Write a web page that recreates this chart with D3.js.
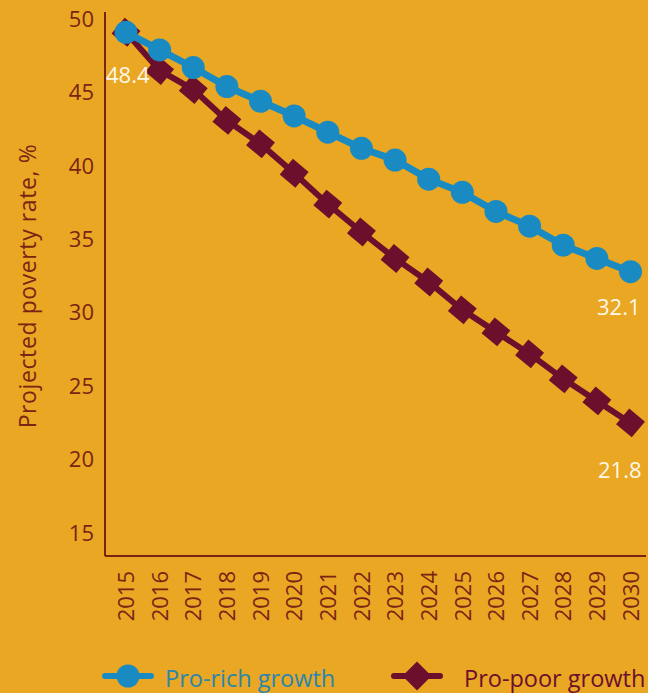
<!DOCTYPE html>
<html>
<head>
<meta charset="utf-8">
<script src="https://cdn.jsdelivr.net/npm/d3@7"></script>
<style>
  html, body { margin: 0; padding: 0; background: #E9A723; }
  svg { display: block; font-family: "Open Sans", sans-serif; }
</style>
</head>
<body>
<svg id="chart" width="648" height="693"></svg>
<script>
// Projected poverty rate (%) under two growth scenarios, 2015–2030
const years = [2015, 2016, 2017, 2018, 2019, 2020, 2021, 2022, 2023, 2024, 2025, 2026, 2027, 2028, 2029, 2030];
const proRich = [48.4, 47.2, 46.0, 44.7, 43.7, 42.7, 41.6, 40.5, 39.7, 38.4, 37.5, 36.2, 35.2, 33.9, 33.0, 32.1];
const proPoor = [48.4, 45.8, 44.5, 42.4, 40.8, 38.8, 36.7, 34.8, 33.0, 31.4, 29.5, 28.0, 26.5, 24.8, 23.3, 21.8];
const yTicks = [15, 20, 25, 30, 35, 40, 45, 50];
const seriesNames = ["Pro-rich growth", "Pro-poor growth"];

const colors = {
  bg: "#E9A723",
  rich: "#1A8BC2",
  poor: "#6C0F2C",
  axis: "#7A2414",
  richText: "#2986AE",
  poorText: "#6C0F2C",
  label: "#FFF8E8"
};

const svg = d3.select("#chart");

const x = d3.scalePoint().domain(years).range([126, 630.5]);
const y = d3.scaleLinear().domain([12.74, 49.78]).range([556, 12]);

// axis lines (left and bottom)
svg.append("line")
  .attr("x1", 105).attr("x2", 105)
  .attr("y1", y(49.78)).attr("y2", y(12.74))
  .attr("stroke", colors.axis).attr("stroke-width", 2);
svg.append("line")
  .attr("x1", 105).attr("x2", 646)
  .attr("y1", y(12.74)).attr("y2", y(12.74))
  .attr("stroke", colors.axis).attr("stroke-width", 2);

// y tick labels
const yAxis = d3.axisLeft(y).tickValues(yTicks).tickSize(0).tickPadding(0);
const gy = svg.append("g").attr("transform", "translate(94,0)").call(yAxis);
gy.select(".domain").remove();
gy.selectAll("text")
  .attr("fill", colors.axis)
  .attr("font-size", 22)
  .attr("font-family", "Open Sans, sans-serif")
  .attr("dy", "0.34em")
  .attr("y", 10);

// x tick labels, rotated
const xAxis = d3.axisBottom(x).tickSize(0).tickPadding(0);
const gx = svg.append("g").attr("transform", "translate(0,571)").call(xAxis);
gx.select(".domain").remove();
gx.selectAll("text")
  .attr("fill", colors.axis)
  .attr("font-size", 22)
  .attr("font-family", "Open Sans, sans-serif")
  .attr("transform", "rotate(-90)")
  .attr("text-anchor", "end")
  .attr("x", 0)
  .attr("y", 0)
  .attr("dy", "0.35em");

// y axis title
svg.append("text")
  .attr("transform", "translate(36,286) rotate(-90)")
  .attr("text-anchor", "middle")
  .attr("fill", colors.axis)
  .attr("font-size", 23)
  .attr("letter-spacing", 0.6)
  .text("Projected poverty rate, %");

const line = d3.line().x((d, i) => x(years[i])).y(d => y(d));

// pro-poor series (drawn first, beneath)
svg.append("path")
  .datum(proPoor)
  .attr("d", line)
  .attr("fill", "none")
  .attr("stroke", colors.poor)
  .attr("stroke-width", 6);
const sq = d3.symbol().type(d3.symbolSquare).size(420);
svg.append("g").selectAll("path")
  .data(proPoor)
  .join("path")
  .attr("d", sq)
  .attr("transform", (d, i) => `translate(${x(years[i])},${y(d)}) rotate(40)`)
  .attr("fill", colors.poor);

// pro-rich series
svg.append("path")
  .datum(proRich)
  .attr("d", line)
  .attr("fill", "none")
  .attr("stroke", colors.rich)
  .attr("stroke-width", 7);
svg.append("g").selectAll("circle")
  .data(proRich)
  .join("circle")
  .attr("cx", (d, i) => x(years[i]))
  .attr("cy", d => y(d))
  .attr("r", 11.5)
  .attr("fill", colors.rich);

// value labels
const valueLabels = [
  { v: proRich[0], i: 0, dx: -20, dy: 43, anchor: "start" },
  { v: proRich[proRich.length - 1], i: years.length - 1, dx: 10, dy: 36, anchor: "end" },
  { v: proPoor[proPoor.length - 1], i: years.length - 1, dx: 11, dy: 47, anchor: "end" }
];
svg.append("g").selectAll("text")
  .data(valueLabels)
  .join("text")
  .attr("x", d => x(years[d.i]) + d.dx)
  .attr("y", d => y(d.v) + d.dy)
  .attr("text-anchor", d => d.anchor)
  .attr("fill", colors.label)
  .attr("font-size", 22)
  .attr("dy", "0.35em")
  .text(d => d3.format(".1f")(d.v));

// legend
const legend = [
  { name: seriesNames[0], cx: 128, tx: 165, color: colors.rich, text: colors.richText, shape: "circle" },
  { name: seriesNames[1], cx: 417, tx: 464, color: colors.poor, text: colors.poorText, shape: "diamond" }
];
const lg = svg.append("g").selectAll("g").data(legend).join("g")
  .attr("transform", d => `translate(${d.cx},676)`);
lg.append("line")
  .attr("x1", -23).attr("x2", 23)
  .attr("stroke", d => d.color).attr("stroke-width", 6)
  .attr("stroke-linecap", "round");
lg.filter(d => d.shape === "circle").append("circle")
  .attr("r", 11.5).attr("fill", d => d.color);
lg.filter(d => d.shape === "diamond").append("path")
  .attr("d", d3.symbol().type(d3.symbolSquare).size(420))
  .attr("transform", "rotate(45)")
  .attr("fill", d => d.color);
lg.append("text")
  .attr("x", d => d.tx - d.cx)
  .attr("y", 3)
  .attr("dy", "0.36em")
  .attr("fill", d => d.text)
  .attr("font-size", 23.5)
  .text(d => d.name);
</script>
</body>
</html>
